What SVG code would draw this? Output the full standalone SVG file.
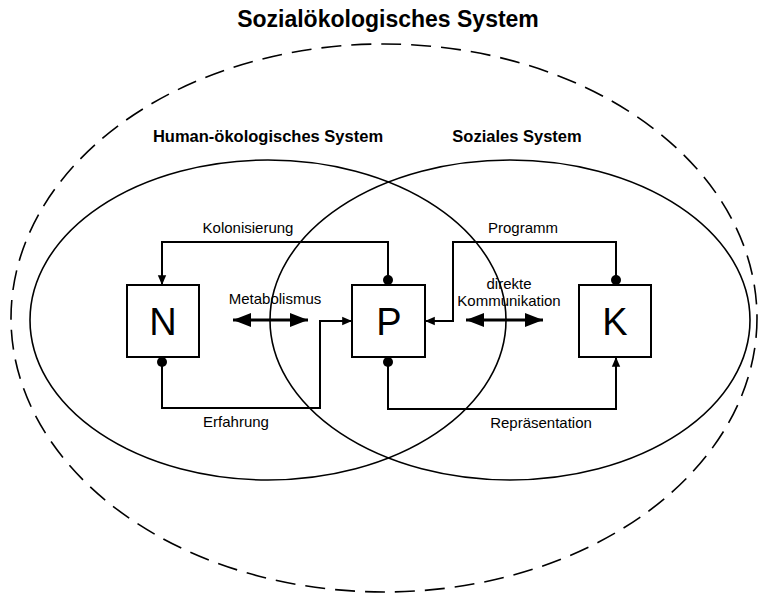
<svg xmlns="http://www.w3.org/2000/svg" width="762" height="597" viewBox="0 0 762 597">
<style>
.t{font-family:"Liberation Sans",Arial,sans-serif;fill:#000}
.lbl{font-size:15px}
.hd{font-size:16.5px;font-weight:bold}
.ttl{font-size:23px;font-weight:bold}
.big{font-size:38px}
.box{fill:#fff;stroke:#000;stroke-width:2}
.ell{fill:none;stroke:#000;stroke-width:1.6}
.con{fill:none;stroke:#000;stroke-width:2}
.dbl{fill:none;stroke:#000;stroke-width:3}
</style>
<defs>
<marker id="ah" viewBox="0 0 10 10" refX="10" refY="5" markerWidth="7" markerHeight="7" markerUnits="userSpaceOnUse" orient="auto" overflow="visible">
<path d="M-4,-1 L10,5 L-4,11 Z" fill="#000"/>
</marker>
<marker id="big" viewBox="0 0 18 14" refX="18" refY="7" markerWidth="18" markerHeight="14" markerUnits="userSpaceOnUse" orient="auto-start-reverse">
<path d="M0,0 L18,7 L0,14 Z" fill="#000"/>
</marker>
</defs>
<rect width="762" height="597" fill="#fff"/>
<text class="t ttl" x="388" y="27" text-anchor="middle">Sozialökologisches System</text>
<g id="sozialoekologisch">
<ellipse class="ell" cx="384" cy="318" rx="373" ry="274" stroke-width="2" stroke-dasharray="20,10"/>
</g>
<g id="humanoekologisch">
<ellipse class="ell" cx="268" cy="320" rx="238" ry="160"/>
<text class="t hd" x="268" y="142" text-anchor="middle">Human-ökologisches System</text>
</g>
<g id="soziales">
<ellipse class="ell" cx="510" cy="320" rx="240" ry="160"/>
<text class="t hd" x="517" y="142" text-anchor="middle">Soziales System</text>
</g>
<g id="connectors">
<path class="con" d="M388,280 V242 H162 V285" marker-end="url(#ah)"/>
<circle cx="388" cy="280" r="5"/>
<text class="t lbl" x="248" y="233" text-anchor="middle">Kolonisierung</text>
<path class="con" d="M162,362 V408 H320 V321 H352" marker-end="url(#ah)"/>
<circle cx="162" cy="362" r="5"/>
<text class="t lbl" x="236" y="427" text-anchor="middle">Erfahrung</text>
<path class="dbl" d="M233,320 H308" marker-start="url(#big)" marker-end="url(#big)"/>
<text class="t lbl" x="275" y="304" text-anchor="middle">Metabolismus</text>
<path class="con" d="M616,280 V242 H453 V321 H425" marker-end="url(#ah)"/>
<circle cx="616" cy="280" r="5"/>
<text class="t lbl" x="523" y="233" text-anchor="middle">Programm</text>
<path class="dbl" d="M466,320 H543" marker-start="url(#big)" marker-end="url(#big)"/>
<text class="t lbl" x="509" y="289" text-anchor="middle">direkte</text>
<text class="t lbl" x="509" y="306" text-anchor="middle">Kommunikation</text>
<path class="con" d="M388,362 V409 H616 V357" marker-end="url(#ah)"/>
<circle cx="388" cy="362" r="5"/>
<text class="t lbl" x="541" y="428" text-anchor="middle">Repräsentation</text>
</g>
<g id="N">
<rect class="box" x="127" y="285" width="72" height="72"/>
<text class="t big" x="163" y="335" text-anchor="middle">N</text>
</g>
<g id="P">
<rect class="box" x="352" y="285" width="73" height="72" fill-opacity="0"/>
<text class="t big" x="389" y="335" text-anchor="middle">P</text>
</g>
<g id="K">
<rect class="box" x="579" y="285" width="72" height="72"/>
<text class="t big" x="615" y="335" text-anchor="middle">K</text>
</g>
</svg>
